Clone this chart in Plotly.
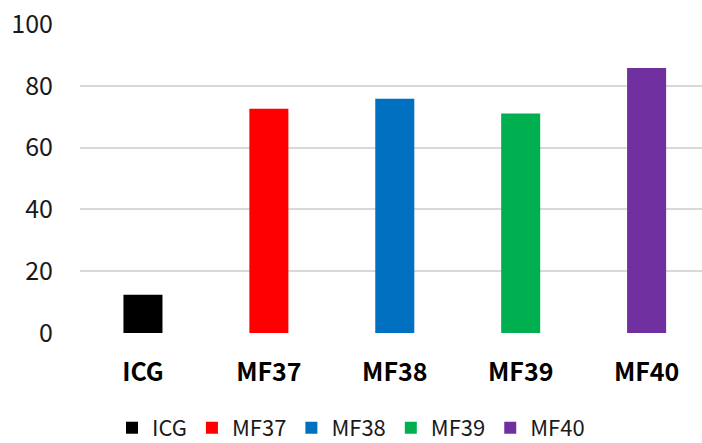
import plotly.graph_objects as go

# Sample names and measured values
categories = ["ICG", "MF37", "MF38", "MF39", "MF40"]
values = [12.4, 72.6, 75.8, 71.0, 85.8]
colors = ["#000000", "#FF0000", "#0070C0", "#00B050", "#7030A0"]

y_ticks = [0, 20, 40, 60, 80, 100]

FONT = "Noto Sans CJK KR"

fig = go.Figure()
for cat, val, col in zip(categories, values, colors):
    fig.add_trace(go.Bar(
        x=[cat], y=[val], name=cat,
        marker=dict(color=col, line=dict(width=0)),
        width=0.31,
    ))

fig.update_layout(
    width=702, height=443,
    margin=dict(l=80, r=0, t=24, b=110),
    paper_bgcolor="white", plot_bgcolor="white",
    barmode="overlay",
    font=dict(family=FONT, color="#1a1a1a"),
    showlegend=True,
    legend=dict(
        orientation="h",
        xref="container", yref="container",
        x=0.5, xanchor="center",
        y=0.034, yanchor="middle",
        font=dict(size=22, color="#1a1a1a", family=FONT),
        itemwidth=30,
        traceorder="normal",
    ),
)

fig.update_xaxes(
    type="category",
    range=[-0.5, 4.44],
    showgrid=False, showline=False, zeroline=False,
    ticks="",
    tickfont=dict(size=25, family=FONT, weight="bold", color="#000000"),
    ticklabelstandoff=22,
)

fig.update_yaxes(
    range=[0, 100],
    tickvals=y_ticks,
    showgrid=True, gridcolor="#D9D9D9", gridwidth=1.5,
    zeroline=False, showline=False,
    ticks="",
    tickfont=dict(size=25, family=FONT, color="#1a1a1a"),
    ticklabelstandoff=26,
)

fig.write_html("out.html")
